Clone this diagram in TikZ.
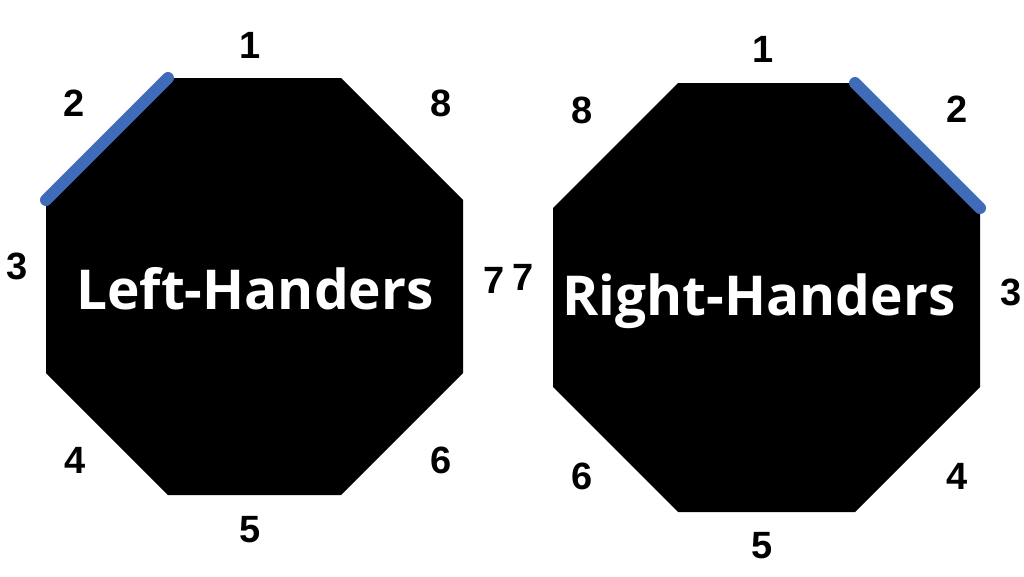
\documentclass[tikz,border=0pt]{standalone}
\usepackage{fontspec}
\setmainfont{Liberation Sans}
\newfontfamily\opensans{Open Sans}
\usepackage{tikz}
\definecolor{blueedge}{RGB}{63,107,185}

\begin{document}
\begin{tikzpicture}[x=1pt,y=-1pt]
    \tikzstyle{num}=[font=\fontsize{38}{38}\selectfont\bfseries,text=black,inner sep=0pt]
    \tikzstyle{title}=[font=\opensans\fontsize{55}{55}\selectfont\bfseries,text=white,anchor=base,inner sep=0pt]
    \tikzstyle{marked}=[draw=blueedge,line width=12pt,line cap=round]
    \useasboundingbox (0,0) rectangle (1024,576);

    % left octagon
    \foreach \num/\x/\y in {1/168/78, 2/341/78, 3/463/200, 4/463/373, 5/341/495, 6/168/495, 7/46/373, 8/46/200}
        \coordinate (L-\num) at (\x,\y);
    \fill (L-1) -- (L-2) -- (L-3) -- (L-4) -- (L-5) -- (L-6) -- (L-7) -- (L-8) -- cycle;
    \draw[marked] (L-8) -- (L-1);

    % right octagon
    \foreach \num/\x/\y in {1/678/83, 2/855/83, 3/980/208, 4/980/387, 5/855/512, 6/678/512, 7/553/387, 8/553/208}
        \coordinate (R-\num) at (\x,\y);
    \fill (R-1) -- (R-2) -- (R-3) -- (R-4) -- (R-5) -- (R-6) -- (R-7) -- (R-8) -- cycle;
    \draw[marked] (R-2) -- (R-3);

    \node[title] (left) at (255,309) {Left-Handers};
    \node[title] (right) at (759,315) {Right-Handers};

    \foreach \num/\x/\y in {1/250/45, 2/74/103, 8/441/103, 3/17/266, 7/494/280, 4/75/460, 6/441/460, 5/250/530}
        \node[num] (LN-\num) at (\x,\y) {\num};
    \foreach \num/\x/\y in {1/763/49, 8/582/110, 2/957/109, 7/523/277, 3/1011/292, 6/582/476, 4/957/476, 5/762/546}
        \node[num] (RN-\num) at (\x,\y) {\num};
\end{tikzpicture}
\end{document}
